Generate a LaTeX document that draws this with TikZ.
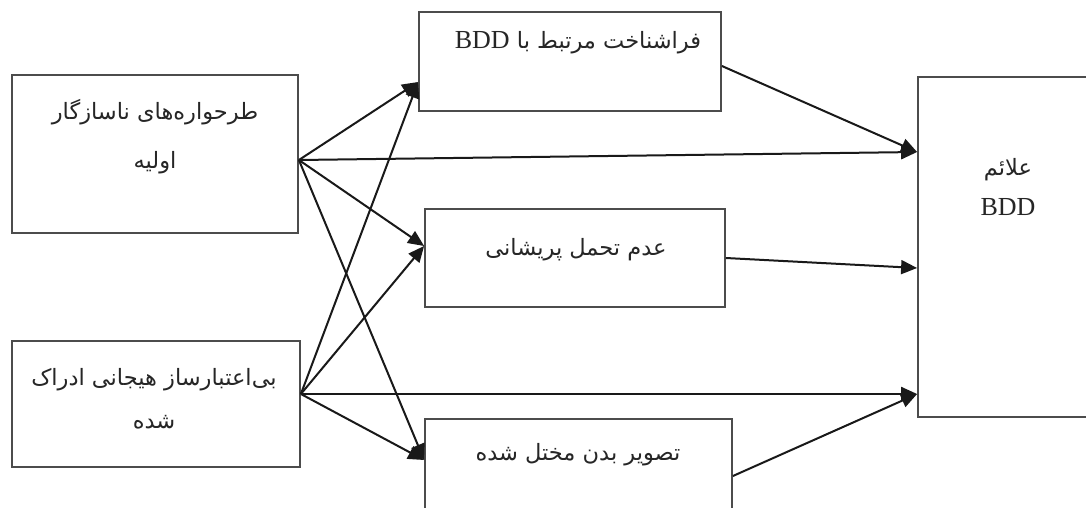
\documentclass[tikz,border=0pt]{standalone}
\usepackage{fontspec}
\usetikzlibrary{arrows.meta}
\TeXXeTstate=1
\newfontfamily\arabicfont[Script=Arabic]{DejaVu Sans}
\newfontfamily\latinfont{Liberation Serif}
\newcommand{\fa}[1]{{\arabicfont\fontsize{22.5}{26}\selectfont\beginR #1\endR}}
\newcommand{\lat}[1]{{\latinfont\fontsize{26}{30}\selectfont #1}}
\begin{document}
\begin{tikzpicture}[x=1pt,y=-1pt,
  box/.style={draw=black!70, line width=1.8pt, fill=white, minimum width=#1, inner sep=0pt},
  txt/.style={inner sep=0pt, text=black!85},
  conn/.style={draw=black!90, line width=2pt, -{Triangle[length=16pt,width=14pt]}}]
\clip (0,0) rectangle (1086,508);
\fill[white] (0,0) rectangle (1086,508);
% boxes
\node[box=286pt, minimum height=158pt] (A) at (155,154) {};
\node[box=288pt, minimum height=126pt] (B) at (156,404) {};
\node[box=302pt, minimum height=99pt] (C) at (570,61.5) {};
\node[box=300pt, minimum height=98pt] (D) at (575,258) {};
\node[box=307pt, minimum height=100pt] (E) at (578.5,469) {};
\node[box=182pt, minimum height=340pt] (F) at (1009,247) {};
% texts
\node[txt] (ta1) at (155,112) {\fa{طرحواره^^^^200cهای ناسازگار}};
\node[txt] (ta2) at (155,163) {\fa{اولیه}};
\node[txt] (tb1) at (154,380) {\fa{بی^^^^200cاعتبارساز هیجانی ادراک}};
\node[txt] (tb2) at (154,422) {\fa{شده}};
\node[txt] (tc) at (578,43) {{\arabicfont\fontsize{22.5}{26}\selectfont\beginR فراشناخت مرتبط با \beginL\lat{BDD}\endL\endR}};
\node[txt] (td) at (576,250) {\fa{عدم تحمل پریشانی}};
\node[txt] (te) at (578,455) {\fa{تصویر بدن مختل شده}};
\node[txt] (tf1) at (1008,170) {\fa{علائم}};
\node[txt] (tf2) at (1008,207) {\lat{BDD}};
% connectors
\draw[conn] ([yshift=-6pt]A.east) -- ([yshift=-20.5pt]C.west);
\draw[conn] ([yshift=-6pt]A.east) -- ([yshift=12pt]D.west);
\draw[conn] ([yshift=-6pt]A.east) -- ([yshift=95pt]F.west);
\draw[conn] ([yshift=-6pt]A.east) -- ([yshift=9pt]E.west);
\draw[conn] ([yshift=10pt]B.east) -- ([yshift=-20.5pt]C.west);
\draw[conn] ([yshift=10pt]B.east) -- ([yshift=12pt]D.west);
\draw[conn] ([yshift=10pt]B.east) -- ([yshift=-147pt]F.west);
\draw[conn] ([yshift=10pt]B.east) -- ([yshift=9pt]E.west);
\draw[conn] ([yshift=-4.5pt]C.east) -- ([yshift=95pt]F.west);
\draw[conn] (D.east) -- ([yshift=-21pt]F.west);
\draw[conn] ([yshift=-7pt]E.east) -- ([yshift=-147pt]F.west);
\end{tikzpicture}
\end{document}
